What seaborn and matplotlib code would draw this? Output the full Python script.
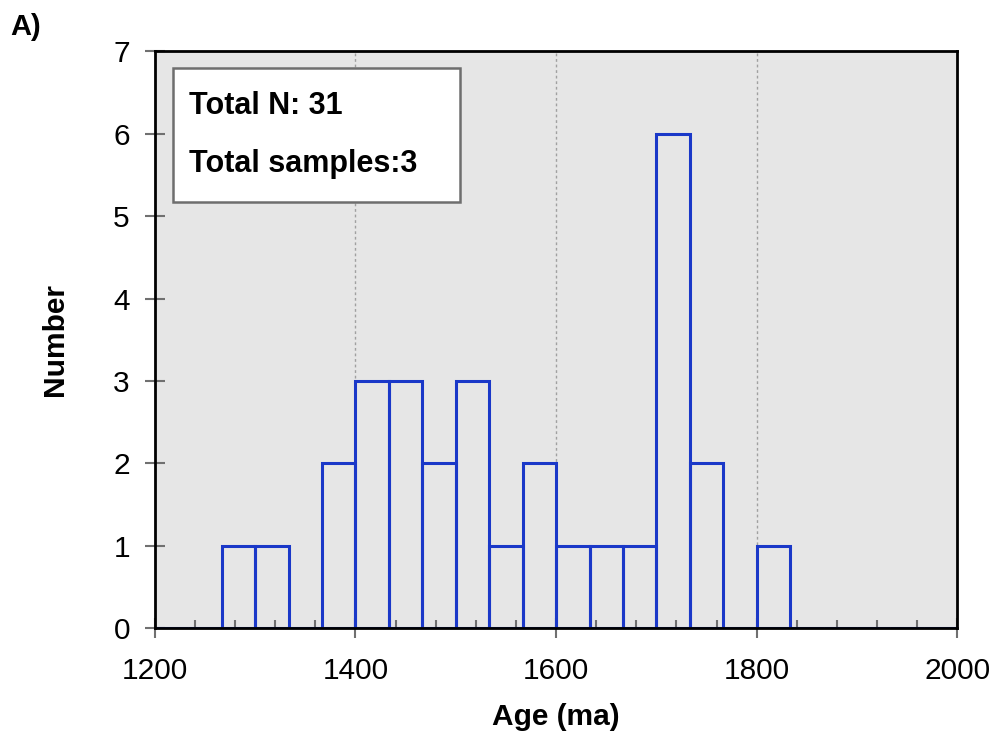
import numpy as np
import pandas as pd
import matplotlib
matplotlib.use("Agg")
import matplotlib.pyplot as plt
import seaborn as sns
from matplotlib.ticker import MultipleLocator
from matplotlib.patches import Rectangle

# Data: histogram bins (width 33.3 Ma) and counts
bin_width = 100 / 3
bin_starts = [1200 + i * bin_width for i in range(24)]
counts = [0, 0, 1, 1, 0, 2, 3, 3, 2, 3, 1, 2, 1, 1, 1, 6, 2, 0, 1, 0, 0, 0, 0, 0]
x_ticks = [1200, 1400, 1600, 1800, 2000]
y_ticks = [0, 1, 2, 3, 4, 5, 6, 7]
box_lines = ["Total N: 31", "Total samples:3"]

sns.set_theme(style="white")
plt.rcParams['font.family'] = ['Liberation Sans', 'DejaVu Sans']
plt.rcParams['text.color'] = 'black'
plt.rcParams['axes.labelcolor'] = 'black'
plt.rcParams['xtick.color'] = 'black'
plt.rcParams['ytick.color'] = 'black'

df = pd.DataFrame({"center": [s + bin_width / 2 for s in bin_starts], "count": counts})
edges = [1200 + i * bin_width for i in range(25)]

fig = plt.figure(figsize=(9.93, 7.33), dpi=100)
ax = fig.add_axes([0.156, 0.143, 0.808, 0.787])
ax.set_facecolor("#e6e6e6")

sns.histplot(data=df[df["count"] > 0], x="center", weights="count", bins=edges,
             fill=False, color="#1a38c8", linewidth=2.2, ax=ax)
for p in ax.patches:
    p.set_edgecolor("#1a38c8")

ax.set_xlim(1200, 2000)
ax.set_ylim(0, 7)
ax.set_xticks(x_ticks)
ax.set_yticks(y_ticks)
ax.xaxis.set_minor_locator(MultipleLocator(40))
ax.tick_params(axis="both", which="major", direction="inout", length=14, width=1.5,
               labelsize=21.5, color="#707070", bottom=True, left=True,
               labelcolor="black")
ax.tick_params(axis="x", which="major", pad=14)
ax.tick_params(axis="y", which="major", pad=11)
ax.tick_params(axis="x", which="minor", direction="in", length=6, width=1.5,
               color="#707070", bottom=True)
for s in ax.spines.values():
    s.set_visible(True)
    s.set_color("black")
    s.set_linewidth(2)
ax.grid(False)
for xv in [1400, 1600, 1800]:
    ax.axvline(xv, color="#a0a0a0", linestyle=(0, (2, 2)), linewidth=1.0, zorder=0)

ax.set_xlabel("Age (ma)", fontsize=21.5, fontweight="bold", labelpad=13)
ax.set_ylabel("Number", fontsize=21.5, fontweight="bold", labelpad=32)

# Info box
ax.add_patch(Rectangle((0.022, 0.738), 0.358, 0.233, transform=ax.transAxes,
                       facecolor="white", edgecolor="#6e6e6e", linewidth=1.8, zorder=5))
ax.text(0.042, 0.905, box_lines[0], transform=ax.transAxes, fontsize=22,
        fontweight="bold", va="center", ha="left", zorder=6)
ax.text(0.042, 0.805, box_lines[1], transform=ax.transAxes, fontsize=22,
        fontweight="bold", va="center", ha="left", zorder=6)

fig.text(0.010, 0.963, "A)", fontsize=21, fontweight="bold", va="center", ha="left")

fig.savefig("out.png", dpi=100)
